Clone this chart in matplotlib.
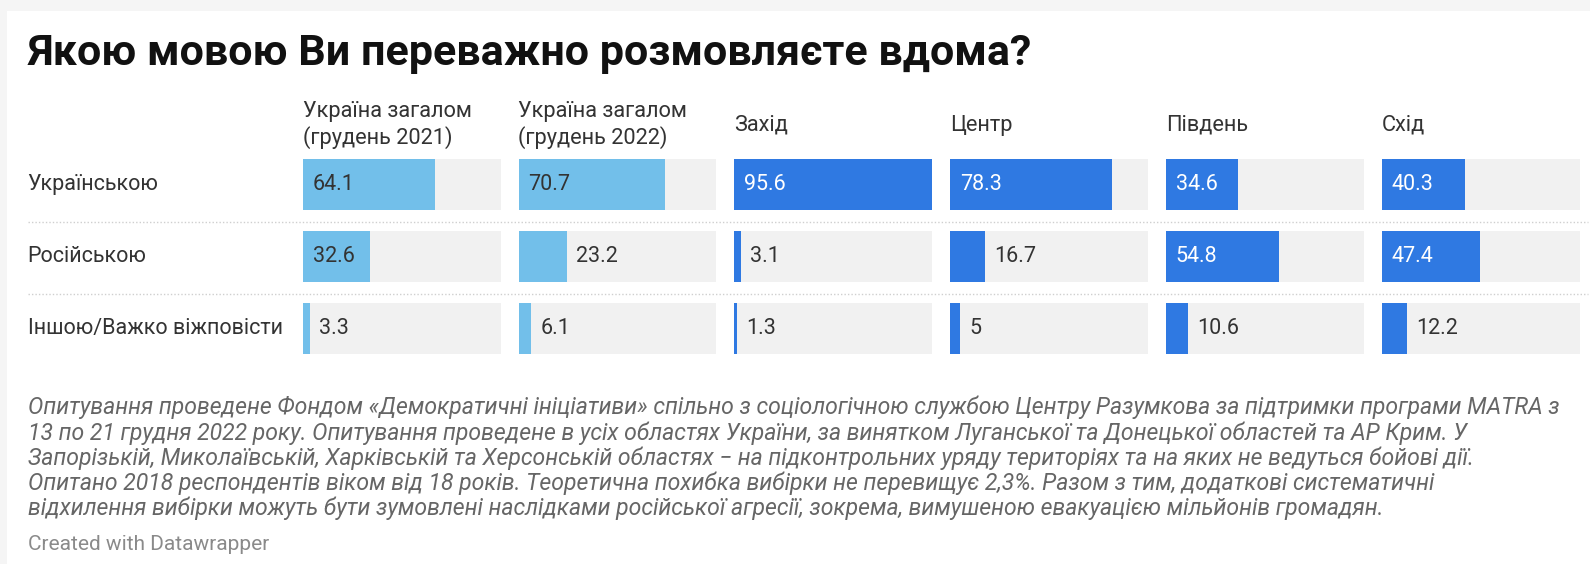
import matplotlib
matplotlib.use("Agg")
import matplotlib.pyplot as plt
from matplotlib.patches import Rectangle
from matplotlib.lines import Line2D

plt.rcParams['font.family'] = ['Roboto', 'DejaVu Sans']

W, H = 1590, 564
DPI = 100

title = "Якою мовою Ви переважно розмовляєте вдома?"
categories = ["Українською", "Російською", "Іншою/Важко віжповісти"]
columns = ["Україна загалом\n(грудень 2021)", "Україна загалом\n(грудень 2022)",
           "Захід", "Центр", "Південь", "Схід"]
ukr_2021 = [64.1, 32.6, 3.3]
ukr_2022 = [70.7, 23.2, 6.1]
zahid = [95.6, 3.1, 1.3]
tsentr = [78.3, 16.7, 5]
pivden = [34.6, 54.8, 10.6]
skhid = [40.3, 47.4, 12.2]
series = [ukr_2021, ukr_2022, zahid, tsentr, pivden, skhid]
light_cols = [True, True, False, False, False, False]

notes = [
    "Опитування проведене Фондом «Демократичні ініціативи» спільно з соціологічною службою Центру Разумкова за підтримки програми MATRA з",
    "13 по 21 грудня 2022 року. Опитування проведене в усіх областях України, за винятком Луганської та Донецької областей та АР Крим. У",
    "Запорізькій, Миколаївській, Харківській та Херсонській областях − на підконтрольних уряду територіях та на яких не ведуться бойові дії.",
    "Опитано 2018 респондентів віком від 18 років. Теоретична похибка вибірки не перевищує 2,3%. Разом з тим, додаткові систематичні",
    "відхилення вибірки можуть бути зумовлені наслідками російської агресії, зокрема, вимушеною евакуацією мільйонів громадян.",
]
credit = "Created with Datawrapper"

LIGHT = "#72bfea"
DARK = "#2f79e2"
TRACK = "#f1f1f1"
TEXT = "#333333"

fig = plt.figure(figsize=(W / DPI, H / DPI), dpi=DPI, facecolor="#f5f5f5")

def fx(x):
    return x / W

def fy(y):
    return 1 - y / H

# white card
card = Rectangle((fx(7), 0), 1, fy(11), transform=fig.transFigure,
                 facecolor="white", edgecolor="none", zorder=-10)
fig.patches.append(card)

fig.text(fx(28), fy(53), title, fontsize=31, fontweight="bold", color="#111111",
         va="center", ha="left")

vmax = max(max(s) for s in series)
x0, step, tw = 302.7, 215.8, 198.0
ytop, ybot = 159.3, 354.0
pitch = 72.0
bar_h = 50.5 / pitch
half = (ybot - ytop) / pitch / 2

for i, (col, vals) in enumerate(zip(columns, series)):
    left = x0 + i * step
    ax = fig.add_axes([fx(left), fy(ybot), tw / W, (ybot - ytop) / H], zorder=2)
    ax.set_xlim(0, vmax)
    ax.set_ylim(1 + half, 1 - half)
    ax.axis("off")
    ypos = list(range(len(categories)))
    ax.barh(ypos, [vmax] * len(vals), height=bar_h, color=TRACK, zorder=1)
    color = LIGHT if light_cols[i] else DARK
    ax.barh(ypos, vals, height=bar_h, color=color, zorder=2)
    for y, v in zip(ypos, vals):
        wpx = v / vmax * tw
        label = f"{v:g}"
        if wpx > 55:
            tc = TEXT if light_cols[i] else "white"
            ax.annotate(label, (0, y), xytext=(10, 0), textcoords="offset pixels",
                        va="center", ha="left", fontsize=15.5, color=tc, zorder=3)
        else:
            ax.annotate(label, (v, y), xytext=(9, 0), textcoords="offset pixels",
                        va="center", ha="left", fontsize=15.5, color=TEXT, zorder=3)
    fig.text(fx(left), fy(125), col, fontsize=15.7, color=TEXT, va="center",
             ha="left", linespacing=1.25)

for j, cat in enumerate(categories):
    yc = ytop + 50.5 / 2 + j * pitch
    fig.text(fx(27.5), fy(yc), cat, fontsize=15.5, color=TEXT, va="center", ha="left")

for ysep in (221.5, 293.5):
    fig.add_artist(Line2D([fx(28), fx(1588)], [fy(ysep), fy(ysep)],
                          transform=fig.transFigure, color="#cfcfcf", lw=1.0,
                          linestyle=(0, (1, 1.5))))

note_y = [407, 433, 458, 483, 508]
for yy, line in zip(note_y, notes):
    fig.text(fx(27.5), fy(yy), line, fontsize=16.6, style="italic", color="#666666",
             va="center", ha="left")
fig.text(fx(27.5), fy(545), credit, fontsize=15, color="#8a8a8a", va="center", ha="left")

fig.savefig("out.png", dpi=DPI, facecolor=fig.get_facecolor())
